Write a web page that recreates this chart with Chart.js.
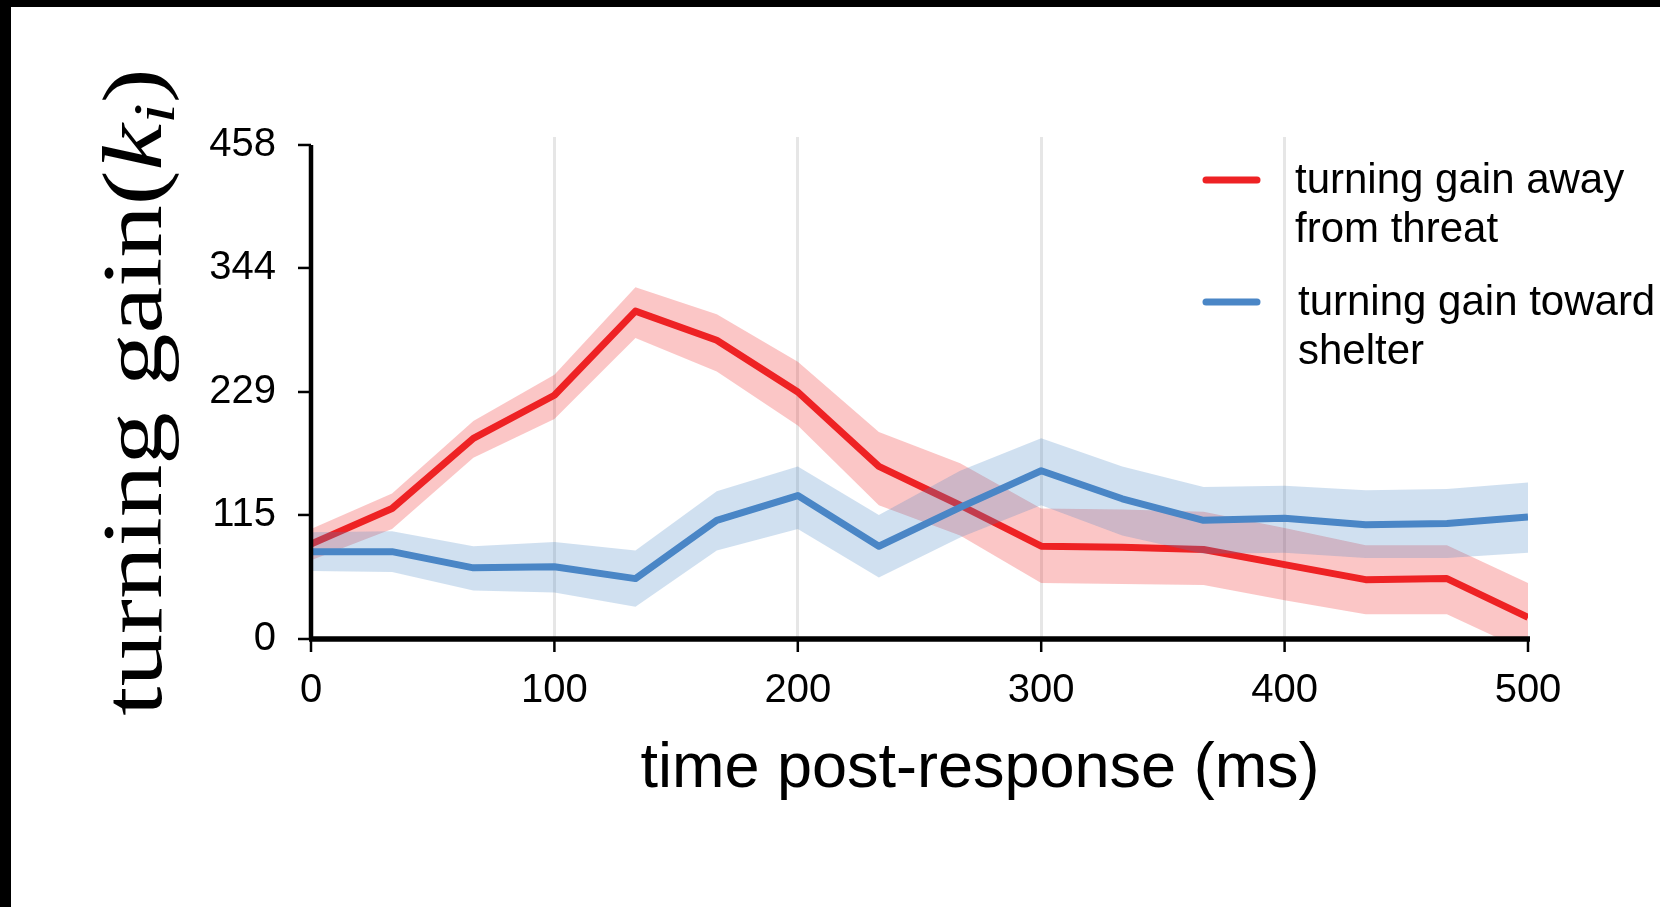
<!DOCTYPE html>
<html>
<head>
<meta charset="utf-8">
<script src="https://cdn.jsdelivr.net/npm/chart.js@4.4.1/dist/chart.umd.min.js"></script>
<style>
  html, body { margin: 0; padding: 0; background: #000; }
  body { width: 1660px; height: 907px; overflow: hidden; position: relative; }
  #wrap { position: absolute; left: 11px; top: 7px; width: 1649px; height: 900px; background: #fff; }
</style>
</head>
<body>
<div id="wrap"><canvas id="gainChart" width="1649" height="900"></canvas></div>
<script>
// time after the escape response, one sample per video frame (ms)
const timeMs = [0, 33.3, 66.7, 100, 133.3, 166.7, 200, 233.3, 266.7, 300, 333.3, 366.7, 400, 433.3, 466.7, 500];

// turning gain away from threat: mean and shaded band
const awayMean  = [88, 121, 186, 226, 304, 277, 229, 160, 124, 86, 85, 83, 69, 55, 56, 20];
const awayUpper = [102, 135, 202, 245, 326, 301, 257, 192, 163, 121, 120, 118, 103, 87, 87, 52];
const awayLower = [73, 102, 168, 204, 279, 248, 198, 124, 96, 52, 51, 50, 36, 23, 23, -12];

// turning gain toward shelter: mean and shaded band
const towardMean  = [81, 81, 66, 67, 56, 110, 133, 86, 122, 156, 130, 110, 112, 106, 107, 113];
const towardUpper = [99, 100, 86, 90, 82, 137, 160, 115, 156, 186, 160, 141, 142, 138, 139, 145];
const towardLower = [63, 62, 45, 43, 30, 82, 102, 57, 94, 124, 96, 79, 80, 75, 75, 80];

const yTickValues = [0, 115, 229, 344, 458];
const xTickValues = [0, 100, 200, 300, 400, 500];
const seriesLabels = [['turning gain away', 'from threat'], ['turning gain toward', 'shelter']];
const xTitle = 'time post-response (ms)';
// y title pieces: upright text, math italic k, italic subscript i
const yTitleParts = ['turning gain(', 'k', 'i', ')'];

const RED = '#ee2224';
const RED_BAND = 'rgba(238, 34, 36, 0.26)';
const BLUE = '#4a86c6';
const BLUE_BAND = 'rgba(74, 134, 198, 0.26)';
const NONE = 'rgba(0,0,0,0)';
const SANS = '"Liberation Sans", Arial, Helvetica, sans-serif';
const SERIF = '"Liberation Serif", "Times New Roman", serif';

const pts = ys => timeMs.map((t, i) => ({ x: t, y: ys[i] }));

function meanLine(label, ys, color, order) {
  return { label: label, data: pts(ys), borderColor: color, borderWidth: 7, pointRadius: 0,
           fill: false, tension: 0, borderJoinStyle: 'round', order: order };
}
function bandEdge(label, ys, fill, color, order) {
  return { label: label, data: pts(ys), borderColor: NONE, borderWidth: 0, pointRadius: 0,
           backgroundColor: color, fill: fill, tension: 0, order: order };
}

// trimmed spines + tick marks, drawn over the data like matplotlib
const spines = {
  id: 'spines',
  afterDatasetsDraw(chart) {
    const { ctx, scales: { x, y } } = chart;
    const x0 = x.getPixelForValue(0), x1 = x.getPixelForValue(500);
    const y0 = y.getPixelForValue(0), y1 = y.getPixelForValue(458);
    ctx.save();
    ctx.strokeStyle = '#000';
    ctx.lineCap = 'butt';
    ctx.lineWidth = 4.5;
    ctx.beginPath(); ctx.moveTo(x0, y0); ctx.lineTo(x0, y1); ctx.stroke();
    ctx.lineWidth = 5.5;
    ctx.beginPath(); ctx.moveTo(x0 - 2, y0); ctx.lineTo(x1 + 2, y0); ctx.stroke();
    ctx.lineWidth = 2.5;
    yTickValues.forEach(v => {
      const py = y.getPixelForValue(v);
      ctx.beginPath(); ctx.moveTo(x0 - 13, py); ctx.lineTo(x0, py); ctx.stroke();
    });
    xTickValues.forEach(v => {
      const px = x.getPixelForValue(v);
      ctx.beginPath(); ctx.moveTo(px, y0); ctx.lineTo(px, y0 + 13); ctx.stroke();
    });
    ctx.restore();
  }
};

// axis titles and the two-line legend
const annotations = {
  id: 'annotations',
  afterDraw(chart) {
    const ctx = chart.ctx;
    ctx.save();
    ctx.fillStyle = '#000';

    // x title
    ctx.font = '63px ' + SANS;
    ctx.textAlign = 'center';
    ctx.textBaseline = 'middle';
    ctx.fillText(xTitle, 969, 763);

    // y title, rotated and set wide like the TeX roman face
    const size = 84;
    const fonts = [size + 'px ' + SERIF, 'italic ' + size + 'px ' + SERIF,
                   'italic ' + Math.round(size * 0.7) + 'px ' + SERIF, size + 'px ' + SERIF];
    const shifts = [0, 0, size * 0.15, 0];
    ctx.translate(150, 385);
    ctx.rotate(-Math.PI / 2);
    ctx.scale(1.25, 1);
    ctx.textAlign = 'left';
    ctx.textBaseline = 'alphabetic';
    let total = 0;
    const widths = yTitleParts.map((s, i) => { ctx.font = fonts[i]; const w = ctx.measureText(s).width; total += w; return w; });
    let cx = -total / 2;
    yTitleParts.forEach((s, i) => {
      ctx.font = fonts[i];
      ctx.fillText(s, cx, shifts[i]);
      cx += widths[i];
    });
    ctx.setTransform(1, 0, 0, 1, 0, 0);

    // legend
    const items = [
      { color: RED, y: 173, tx: 1284, base: 186 },
      { color: BLUE, y: 295, tx: 1287, base: 308 }
    ];
    ctx.font = '42px ' + SANS;
    ctx.textAlign = 'left';
    ctx.textBaseline = 'alphabetic';
    items.forEach((it, i) => {
      ctx.strokeStyle = it.color;
      ctx.lineWidth = 7;
      ctx.lineCap = 'round';
      ctx.beginPath(); ctx.moveTo(1195, it.y); ctx.lineTo(1246, it.y); ctx.stroke();
      seriesLabels[i].forEach((line, j) => ctx.fillText(line, it.tx, it.base + j * 48.5));
    });
    ctx.restore();
  }
};

const gainCtx = document.getElementById('gainChart').getContext('2d');
const gainChart = new Chart(gainCtx, {
  type: 'line',
  data: {
    datasets: [
      meanLine(seriesLabels[0].join(' '), awayMean, RED, 4),
      bandEdge('away upper', awayUpper, '+1', RED_BAND, 5),
      bandEdge('away lower', awayLower, false, NONE, 6),
      meanLine(seriesLabels[1].join(' '), towardMean, BLUE, 1),
      bandEdge('toward upper', towardUpper, '+1', BLUE_BAND, 2),
      bandEdge('toward lower', towardLower, false, NONE, 3)
    ]
  },
  options: {
    responsive: false,
    animation: false,
    layout: { padding: { left: 0, top: 130, right: 132, bottom: 0 } },
    plugins: {
      legend: { display: false },
      tooltip: { enabled: false }
    },
    scales: {
      x: {
        type: 'linear',
        min: 0,
        max: 500,
        afterBuildTicks: s => { s.ticks = xTickValues.map(v => ({ value: v })); },
        afterFit: s => { s.height = 268; },
        border: { display: false },
        grid: {
          drawTicks: false,
          lineWidth: 3,
          // light vertical guides at the inner ticks only
          color: c => (c.tick && c.tick.value > 0 && c.tick.value < 500) ? '#e6e6e6' : NONE
        },
        ticks: { color: '#000', font: { family: SANS, size: 40 }, padding: 28, maxRotation: 0, autoSkip: false }
      },
      y: {
        min: 0,
        max: 465.4,
        afterBuildTicks: s => { s.ticks = yTickValues.map(v => ({ value: v })); },
        afterFit: s => { s.width = 300; },
        border: { display: false },
        grid: { display: false },
        ticks: { color: '#000', font: { family: SANS, size: 40 }, padding: 27 }
      }
    }
  },
  plugins: [spines, annotations]
});
</script>
</body>
</html>
